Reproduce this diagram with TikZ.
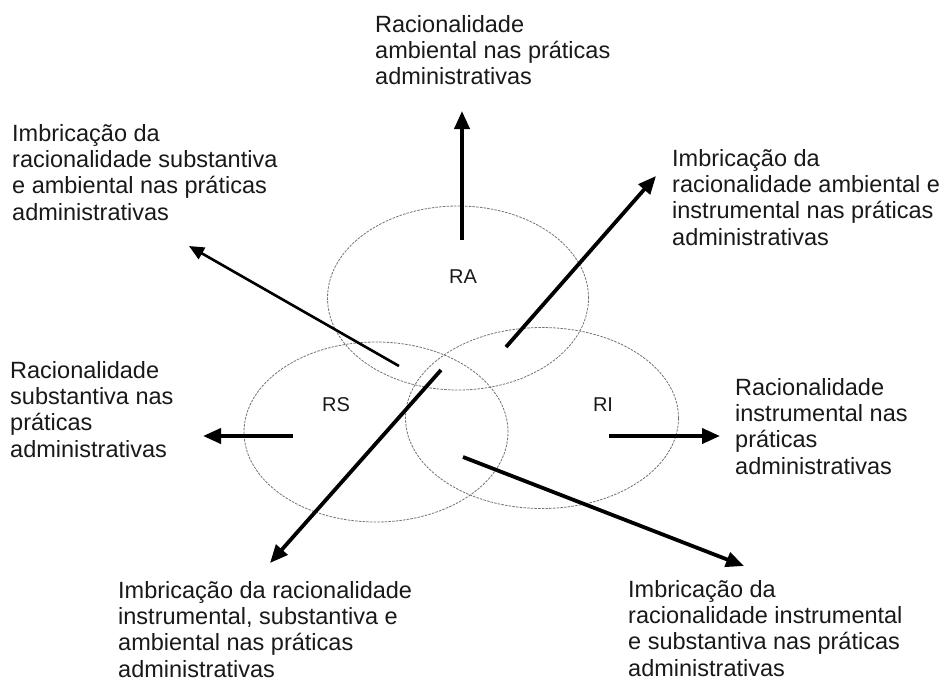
\documentclass[tikz,border=0pt]{standalone}
\usepackage{fontspec}
\setmainfont{Liberation Sans}
\usetikzlibrary{shapes.geometric,arrows.meta}
\begin{document}
\begin{tikzpicture}[x=1pt,y=-1pt,
  lbl/.style={anchor=north west,inner sep=0pt,align=left,font=\fontsize{23.5}{26.3}\selectfont,text=black!90},
  circ/.style={ellipse,draw=black!55,line width=0.8pt,dash pattern=on 2.5pt off 1.2pt,inner sep=0pt},
  tag/.style={inner sep=0pt,font=\fontsize{20}{22}\selectfont,text=black!90},
  arr/.style={line width=3.8pt,-{Triangle[length=18pt,width=15pt]}},
  thinarr/.style={line width=2.6pt,-{Triangle[length=15pt,width=13pt]}}]
\useasboundingbox[fill=white] (0,0) rectangle (942,681);
% ellipses
\node[circ,minimum width=261pt,minimum height=184pt] (eA) at (458,298) {};
\node[circ,minimum width=264pt,minimum height=180pt] (eS) at (376,432) {};
\node[circ,minimum width=273pt,minimum height=181pt] (eI) at (542,418) {};
\node[tag] (RA) at (463,277) {RA};
\node[tag] (RS) at (336,405) {RS};
\node[tag] (RI) at (603,405) {RI};
% labels
\node[lbl] (tA) at (375,15) {Racionalidade\\ambiental nas práticas\\administrativas};
\node[lbl] (tSA) at (12,124) {Imbricação da\\racionalidade substantiva\\e ambiental nas práticas\\administrativas};
\node[lbl] (tAI) at (672,149) {Imbricação da\\racionalidade ambiental e\\instrumental nas práticas\\administrativas};
\node[lbl] (tS) at (10,361) {Racionalidade\\substantiva nas\\práticas\\administrativas};
\node[lbl] (tI) at (735,378) {Racionalidade\\instrumental nas\\práticas\\administrativas};
\node[lbl] (tISA) at (118,581) {Imbricação da racionalidade\\instrumental, substantiva e\\ambiental nas práticas\\administrativas};
\node[lbl] (tIS) at (628,580) {Imbricação da\\racionalidade instrumental\\e substantiva nas práticas\\administrativas};
% arrow coordinates
\coordinate (a0) at (462,240); \coordinate (a1) at (462,111);
\coordinate (b0) at (399,366); \coordinate (b1) at (189,246);
\coordinate (c0) at (506,347); \coordinate (c1) at (656,176);
\coordinate (d0) at (293,436); \coordinate (d1) at (203,436);
\coordinate (e0) at (609,436); \coordinate (e1) at (720,436);
\coordinate (f0) at (441,370); \coordinate (f1) at (270,563);
\coordinate (g0) at (463,457); \coordinate (g1) at (744,566);
\draw[arr] (a0) -- (a1);
\draw[thinarr] (b0) -- (b1);
\draw[arr] (c0) -- (c1);
\draw[arr] (d0) -- (d1);
\draw[arr] (e0) -- (e1);
\draw[arr] (f0) -- (f1);
\draw[arr] (g0) -- (g1);
\end{tikzpicture}
\end{document}
